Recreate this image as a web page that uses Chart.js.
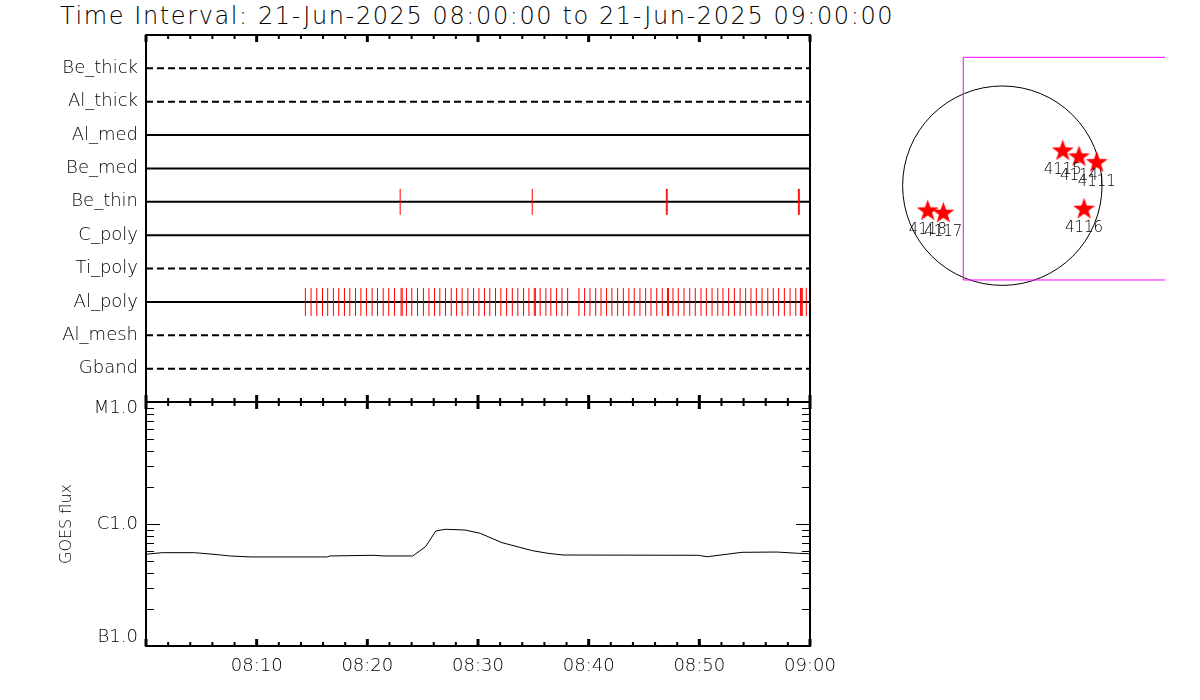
<!DOCTYPE html>
<html>
<head>
<meta charset="utf-8">
<title>Time Interval: 21-Jun-2025 08:00:00 to 21-Jun-2025 09:00:00</title>
<script src="https://cdn.jsdelivr.net/npm/chart.js@4.4.1/dist/chart.umd.min.js"></script>
<style>
  body { margin: 0; background: #fff; }
  #Marco { position: relative; width: 1200px; height: 700px; overflow: hidden; background: #fff; }
  #Marco canvas { position: absolute; left: 0; top: 0; }
  #Titulo {
    position: absolute; left: 60px; top: 1px; line-height: 30px;
    font-family: 'DejaVu Sans', sans-serif; font-weight: 200; font-size: 24px; letter-spacing: 1.6px;
    color: #000; white-space: nowrap;
  }
</style>
</head>
<body>
<div id="Marco">
  <div id="Titulo">Time Interval: 21-Jun-2025 08:00:00 to 21-Jun-2025 09:00:00</div>
  <canvas id="CanvasFiltros" width="1200" height="700"></canvas>
  <canvas id="CanvasGoes" width="1200" height="700"></canvas>
  <canvas id="CanvasDisco" width="1200" height="700"></canvas>
</div>
<script>
const Filters       = ['Be_thick', 'Al_thick', 'Al_med', 'Be_med', 'Be_thin', 'C_poly', 'Ti_poly', 'Al_poly', 'Al_mesh', 'Gband'];
const DashedFilters = ['Be_thick', 'Al_thick', 'Ti_poly', 'Al_mesh', 'Gband'];

const BeThinTimes = ['08:22:58', '08:34:54', '08:47:01', '08:47:06', '08:58:57', '08:59:02'];

const AlPolyTimes = [
  '08:14:24', '08:14:55', '08:15:26', '08:15:57', '08:16:25', '08:16:56', '08:17:25', '08:17:56',
  '08:18:25', '08:18:56', '08:19:25', '08:19:55', '08:20:26', '08:20:55', '08:21:26', '08:21:56',
  '08:22:27', '08:23:03', '08:23:09', '08:23:32', '08:24:01', '08:24:32', '08:25:04', '08:25:34',
  '08:26:04', '08:26:33', '08:27:04', '08:27:35', '08:28:04', '08:28:34', '08:29:05', '08:29:36',
  '08:30:05', '08:30:35', '08:31:04', '08:31:35', '08:32:04', '08:32:35', '08:33:06', '08:33:36',
  '08:34:07', '08:34:36', '08:35:05', '08:35:11', '08:35:37', '08:36:08', '08:36:35', '08:37:06',
  '08:37:35', '08:38:06', '08:39:07', '08:39:38', '08:40:07', '08:40:38', '08:41:07', '08:41:37',
  '08:42:06', '08:42:37', '08:43:08', '08:43:38', '08:44:07', '08:44:38', '08:45:09', '08:45:38',
  '08:46:09', '08:46:39', '08:47:07', '08:47:13', '08:47:37', '08:48:06', '08:48:37', '08:49:08',
  '08:49:38', '08:50:09', '08:50:38', '08:51:09', '08:51:40', '08:52:08', '08:52:39', '08:53:10',
  '08:53:41', '08:54:11', '08:54:40', '08:55:09', '08:55:40', '08:56:11', '08:56:41', '08:57:10',
  '08:57:41', '08:58:12', '08:58:43', '08:59:08', '08:59:13', '08:59:18', '08:59:40'
];

const GoesTimes = [
  '08:00:00', '08:01:26', '08:04:23', '08:06:33', '08:07:32', '08:09:30', '08:16:24', '08:16:36',
  '08:20:31', '08:21:31', '08:24:06', '08:25:16', '08:26:11', '08:27:02', '08:28:49', '08:30:12',
  '08:32:10', '08:34:56', '08:36:20', '08:37:41', '08:49:55', '08:50:42', '08:53:51', '08:57:00',
  '08:58:57', '09:00:00'
];
const GoesFlux = [
  5.65e-7, 5.82e-7, 5.82e-7, 5.60e-7, 5.47e-7, 5.37e-7, 5.37e-7, 5.47e-7,
  5.54e-7, 5.47e-7, 5.47e-7, 6.52e-7, 8.76e-7, 9.05e-7, 8.93e-7, 8.39e-7,
  7.03e-7, 6.04e-7, 5.75e-7, 5.57e-7, 5.54e-7, 5.39e-7, 5.86e-7, 5.89e-7,
  5.75e-7, 5.70e-7
];

const GoesLevels = [1e-7, 1e-6, 1e-5];
const GoesLabels = ['B1.0', 'C1.0', 'M1.0'];
const GoesMinor  = [2e-7, 3e-7, 4e-7, 5e-7, 6e-7, 7e-7, 8e-7, 9e-7, 2e-6, 3e-6, 4e-6, 5e-6, 6e-6, 7e-6, 8e-6, 9e-6];

const TimeLabels = ['08:10', '08:20', '08:30', '08:40', '08:50', '09:00'];

// Active regions, helioprojective arcsec
const SpotNames = ['4115', '4114', '4111', '4116', '4118', '4117'];
const SpotX     = [573, 727, 895, 775, -707, -559];
const SpotY     = [338, 282, 228, -214, -230, -252];

// Field of view box corners, arcsec (right edge falls off the plot)
const FovX = [-370, 3000, 3000, -370, -370];
const FovY = [1217, 1217, -894, -894, 1217];

const SolarRadius = 945;

const Fuente = 'DejaVu Sans';
const Peso   = 200;
const Seg = T => { const [H, M, S] = T.split(':').map(Number); return (H - 8) * 3600 + M * 60 + S; };

// IDL-like box with inward ticks
const MarcoIdl = {
  id: 'MarcoIdl',
  afterDraw(C, Args, Opts) {
    const { ctx, chartArea: A, scales } = C;
    ctx.save();
    ctx.strokeStyle = '#000';
    ctx.lineWidth = 2;
    ctx.strokeRect(A.left, A.top, A.right - A.left, A.bottom - A.top);
    for (let S = 0; S <= 3600; S += 120) {
      const Px = scales.x.getPixelForValue(S);
      const Mayor = S % 600 === 0;
      const L = Mayor ? 7 : 4;
      ctx.lineWidth = Mayor ? 3 : 2;
      ctx.beginPath();
      ctx.moveTo(Px, A.top);    ctx.lineTo(Px, A.top + L);
      ctx.moveTo(Px, A.bottom); ctx.lineTo(Px, A.bottom - L);
      ctx.stroke();
    }
    if (Opts.Log) {
      ctx.lineWidth = 1;
      [...GoesLevels.map(V => [V, 14]), ...GoesMinor.map(V => [V, 8])].forEach(([V, L]) => {
        const Py = Math.round(scales.y.getPixelForValue(V)) + 0.5;
        ctx.beginPath();
        ctx.moveTo(A.left, Py);  ctx.lineTo(A.left + L, Py);
        ctx.moveTo(A.right, Py); ctx.lineTo(A.right - L, Py);
        ctx.stroke();
      });
      // class labels, kept inside the box like IDL does
      ctx.fillStyle = '#000';
      ctx.font = `${Peso} 18px '${Fuente}'`;
      ctx.textAlign = 'right';
      ctx.textBaseline = 'middle';
      GoesLevels.forEach((V, I) => {
        const Py = Math.min(Math.max(scales.y.getPixelForValue(V), A.top + 6), A.bottom - 9);
        ctx.fillText(GoesLabels[I], A.left - 8, Py);
      });
    }
    ctx.restore();
  }
};

const Comunes = {
  responsive: false,
  animation: false,
  events: [],
};

new Chart(document.getElementById('CanvasFiltros'), {
  type: 'line',
  data: {
    datasets: [
      {
        type: 'scatter',
        data: AlPolyTimes.map(T => ({ x: Seg(T), y: 'Al_poly' })),
        pointStyle: 'line', pointRotation: 90, pointRadius: 14,
        pointBorderColor: '#ff0000', pointBorderWidth: 1, showLine: false
      },
      {
        type: 'scatter',
        data: BeThinTimes.map(T => ({ x: Seg(T), y: 'Be_thin' })),
        pointStyle: 'line', pointRotation: 90, pointRadius: 13,
        pointBorderColor: '#ff0000', pointBorderWidth: 1, showLine: false
      },
      ...Filters.map(F => ({
        data: [{ x: 0, y: F }, { x: 3600, y: F }],
        borderColor: '#000', borderWidth: 2,
        borderDash: DashedFilters.includes(F) ? [7, 4] : [],
        pointRadius: 0
      }))
    ]
  },
  options: {
    ...Comunes,
    layout: { padding: { left: 0, top: 35, right: 390, bottom: 298 } },
    scales: {
      x: { type: 'linear', display: false, min: 0, max: 3600 },
      y: {
        type: 'category', labels: ['', ...Filters, ''], offset: false,
        grid: { display: false, drawTicks: false }, border: { display: false },
        ticks: { padding: 8, color: '#000', autoSkip: false, font: { family: Fuente, size: 18, weight: Peso } },
        afterFit: S => { S.width = 146; }
      }
    },
    plugins: { legend: { display: false }, tooltip: { enabled: false }, MarcoIdl: { Log: false } }
  },
  plugins: [MarcoIdl]
});

new Chart(document.getElementById('CanvasGoes'), {
  type: 'line',
  data: {
    datasets: [{
      data: GoesTimes.map((T, I) => ({ x: Seg(T), y: GoesFlux[I] })),
      borderColor: '#000', borderWidth: 1, pointRadius: 0, tension: 0
    }]
  },
  options: {
    ...Comunes,
    layout: { padding: { left: 0, top: 402, right: 390, bottom: 14 } },
    scales: {
      x: {
        type: 'linear', min: 0, max: 3600,
        afterBuildTicks: S => { S.ticks = TimeLabels.map(L => ({ value: Seg(L + ':00') })); },
        ticks: { callback: (V, I) => TimeLabels[I], maxRotation: 0, autoSkip: false, padding: 10, color: '#000', font: { family: Fuente, size: 18, weight: Peso } },
        grid: { display: false, drawTicks: false }, border: { display: false },
        afterFit: S => { S.height = 40; }
      },
      y: {
        type: 'logarithmic', min: 1e-7, max: 1e-5,
        ticks: { display: false },
        title: { display: true, text: 'GOES flux', color: '#000', padding: { top: 57, bottom: 0 }, font: { family: Fuente, size: 16, weight: Peso } },
        grid: { display: false, drawTicks: false }, border: { display: false },
        afterFit: S => { S.width = 146; }
      }
    },
    plugins: { legend: { display: false }, tooltip: { enabled: false }, MarcoIdl: { Log: true } }
  },
  plugins: [MarcoIdl]
});

function HacerEstrella(Lado) {
  const C = document.createElement('canvas');
  C.width = C.height = Lado;
  const X = C.getContext('2d');
  X.fillStyle = '#ff0000';
  X.beginPath();
  for (let I = 0; I < 10; I++) {
    const R = I % 2 ? Lado * 0.2 : Lado / 2;
    const Ang = -Math.PI / 2 + I * Math.PI / 5;
    X.lineTo(Lado / 2 + R * Math.cos(Ang), Lado / 2 + 1 + R * Math.sin(Ang));
  }
  X.closePath();
  X.fill();
  return C;
}

const Disco = {
  id: 'Disco',
  beforeDatasetsDraw(C) {
    const { ctx, scales: { x, y } } = C;
    const Cx = x.getPixelForValue(0), Cy = y.getPixelForValue(0);
    const R = x.getPixelForValue(SolarRadius) - Cx;
    ctx.save();
    ctx.strokeStyle = '#000';
    ctx.lineWidth = 1;
    ctx.beginPath();
    ctx.arc(Cx, Cy, R, 0, Math.PI * 2);
    ctx.stroke();
    ctx.restore();
  },
  afterDatasetsDraw(C) {
    const { ctx, scales: { x, y } } = C;
    ctx.save();
    ctx.fillStyle = '#000';
    ctx.font = `${Peso} 15px '${Fuente}'`;
    ctx.textAlign = 'center';
    ctx.textBaseline = 'middle';
    SpotNames.forEach((N, I) => {
      ctx.fillText(N, x.getPixelForValue(SpotX[I]), y.getPixelForValue(SpotY[I]) + 20);
    });
    ctx.restore();
  }
};

new Chart(document.getElementById('CanvasDisco'), {
  type: 'scatter',
  data: {
    datasets: [
      {
        data: SpotNames.map((N, I) => ({ x: SpotX[I], y: SpotY[I] })),
        pointStyle: HacerEstrella(23), pointRadius: 11
      },
      {
        type: 'line',
        data: FovX.map((V, I) => ({ x: V, y: FovY[I] })),
        borderColor: '#ff00ff', borderWidth: 1, pointRadius: 0, tension: 0
      }
    ]
  },
  options: {
    ...Comunes,
    layout: { padding: { left: 870, right: 35, top: 30, bottom: 360 } },
    scales: {
      x: { type: 'linear', display: false, min: -1254, max: 1542 },
      y: { type: 'linear', display: false, min: -1463, max: 1476 }
    },
    plugins: { legend: { display: false }, tooltip: { enabled: false } }
  },
  plugins: [Disco]
});
</script>
</body>
</html>
